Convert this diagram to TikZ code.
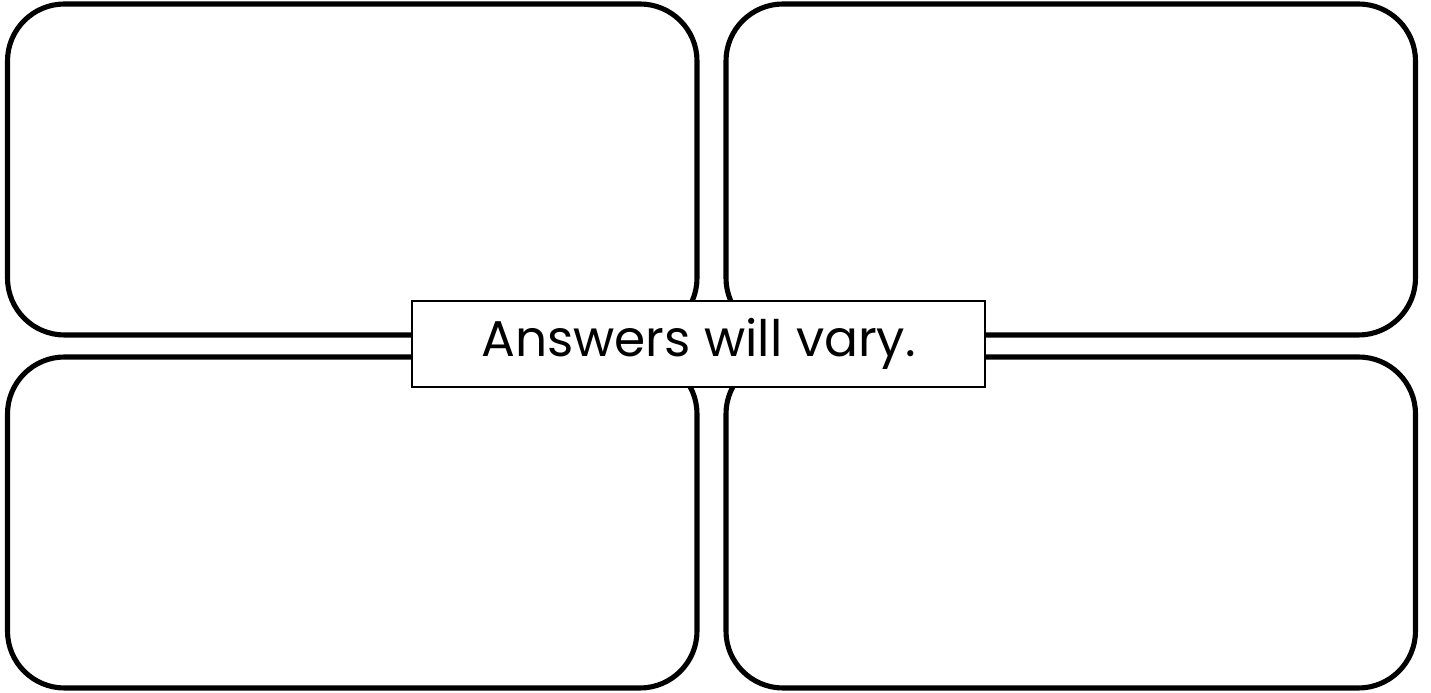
\documentclass[tikz,border=0pt]{standalone}
\usepackage{fontspec}
\setmainfont{Poppins}
\usetikzlibrary{positioning}

\tikzset{
  panel/.style={draw=black, line width=1.45pt, rounded corners=0.57cm,
    minimum width=6.895cm, minimum height=3.31cm, inner sep=0pt, outer sep=0pt},
  answerbox/.style={draw=black, fill=white, line width=0.45pt,
    minimum width=5.73cm, minimum height=0.86cm, inner sep=0pt, outer sep=0pt,
    font=\fontsize{14.3}{17}\selectfont}
}

\begin{document}
\begin{tikzpicture}
\useasboundingbox (0,0) rectangle (14.31,6.93);

% four panels
\node[panel] (topleft) at (3.5225,5.235) {};
\node[panel] (botleft) at (3.5225,1.705) {};
\node[panel] (topright) at (10.7075,5.235) {};
\node[panel] (botright) at (10.7075,1.705) {};

% label in the middle
\node[answerbox] (answer) at (6.985,3.49) {Answers will vary.};

\end{tikzpicture}
\end{document}
